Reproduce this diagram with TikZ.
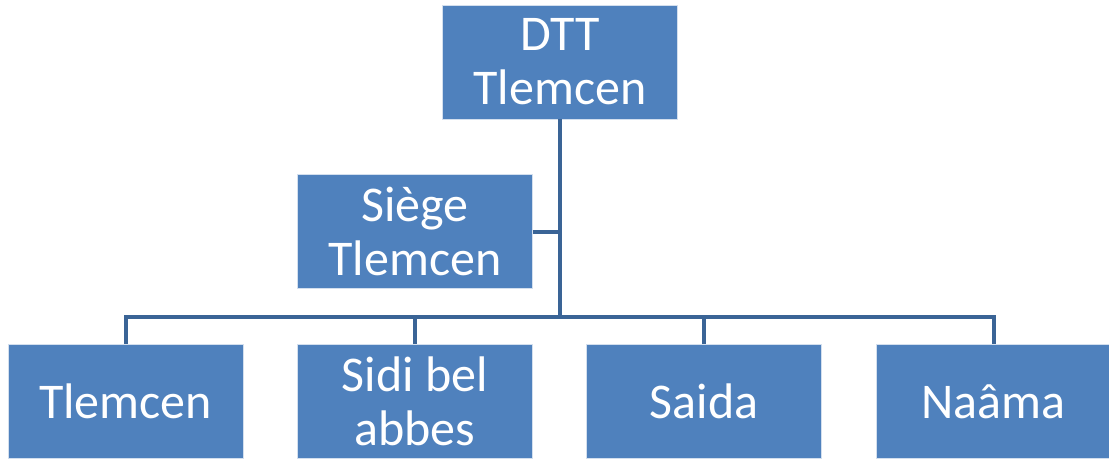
\documentclass[tikz,border=0pt]{standalone}
\usepackage{fontspec}
\setmainfont{Carlito}
\definecolor{boxblue}{HTML}{4F81BD}
\definecolor{linecol}{HTML}{3A6496}
\tikzset{
  orgbox/.style={fill=boxblue, draw=white!75!boxblue, line width=0.8pt,
    minimum width=235pt, minimum height=114pt, inner sep=0pt,
    text=white, align=center, font=\fontsize{50}{54}\selectfont},
  conn/.style={draw=linecol, line width=4pt, line join=miter}
}
\begin{document}
\begin{tikzpicture}[x=1pt,y=1pt]
\useasboundingbox (0,0) rectangle (1109,-461);
\node[orgbox] (top) at (560,-62) {DTT\\Tlemcen};
\node[orgbox] (siege) at (415,-231.5) {Siège\\Tlemcen};
\node[orgbox] (b1) at (125.5,-401.5) {Tlemcen};
\node[orgbox] (b2) at (415,-401.5) {Sidi bel\\abbes};
\node[orgbox] (b3) at (704,-401.5) {Saida};
\node[orgbox] (b4) at (993.5,-401.5) {Naâma};
\coordinate (bar) at (560,-317);
\draw[conn] (top.south) -- (bar);
\draw[conn] (b1.north) |- (bar) -| (b4.north);
\draw[conn] (b2.north) -- (b2.north |- bar);
\draw[conn] (b3.north) -- (b3.north |- bar);
\draw[conn] (siege.east) -- (siege.east -| bar);
\end{tikzpicture}
\end{document}
